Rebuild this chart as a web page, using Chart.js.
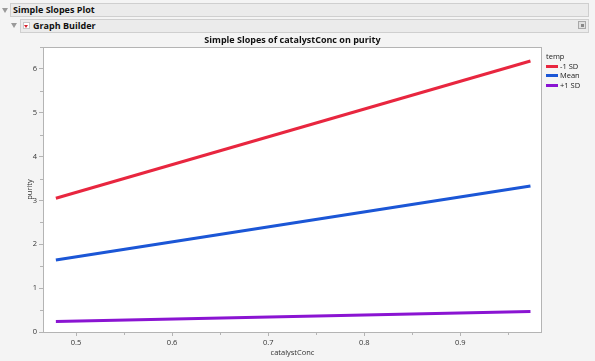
<!DOCTYPE html>
<html>
<head>
  <script src="https://cdn.jsdelivr.net/npm/chart.js@4.4.1/dist/chart.umd.min.js"></script>
  <title>Simple Slopes Plot</title>
  <style>
    body { margin: 0; width: 595px; height: 361px; background: #f4f4f4; font-family: "Open Sans", "Noto Sans", sans-serif; position: relative; overflow: hidden; }
    .tri { position: absolute; width: 0; height: 0; border-left: 3px solid transparent; border-right: 3px solid transparent; border-top: 5px solid #9a9a9a; }
    .bar { position: absolute; background: #ebebeb; border: 1px solid #cfcfcf; box-sizing: border-box; font-weight: bold; font-size: 9px; color: #111; line-height: 12px; }
    #drop { position: absolute; left: 23px; top: 22px; width: 7px; height: 7px; background: #fff; border: 1px solid #c8c8c8; box-sizing: border-box; }
    #drop:after { content: ""; position: absolute; left: 0px; top: 1.5px; border-left: 2.5px solid transparent; border-right: 2.5px solid transparent; border-top: 3px solid #d8202c; }
    #icon { position: absolute; left: 578px; top: 21px; width: 8px; height: 8px; border: 1px solid #a8a8a8; background: #e0e0e0; box-sizing: border-box; }
    #icon:after { content: ""; position: absolute; left: 2px; top: 2px; width: 3px; height: 3px; background: #888; }
    #chartBox { position: absolute; left: 0; top: 34px; width: 595px; height: 327px; }
    #legend { position: absolute; left: 546px; top: 52px; font-size: 7.5px; color: #222; }
    #legend .item { height: 9.5px; line-height: 9.5px; white-space: nowrap; }
    #legend .sw { display: inline-block; width: 12px; height: 3px; vertical-align: middle; margin-right: 2px; margin-top: -1px; }
  </style>
</head>
<body>
  <div class="tri" style="left:2px; top:8px;"></div>
  <div class="bar" style="left:10px; top:3px; width:579px; height:14px; padding-left:2px;">Simple Slopes Plot</div>
  <div class="tri" style="left:11px; top:23px;"></div>
  <div class="bar" style="left:20px; top:19px; width:569px; height:14px; padding-left:12px;">Graph Builder</div>
  <div id="drop"></div>
  <div id="icon"></div>

  <div id="chartBox"><canvas id="slopeChart" width="595" height="327"></canvas></div>
  <div id="legend"></div>

  <script>
    // values
    let xValues = [0.479, 0.973];
    let lowSD = [3.05, 6.18];
    let meanSD = [1.64, 3.33];
    let highSD = [0.24, 0.47];

    let seriesNames = ["-1 SD", "Mean", "+1 SD"];
    let seriesColors = ["#e8263f", "#1b56d6", "#8a14d2"];

    let xTicks = [0.5, 0.6, 0.7, 0.8, 0.9];
    let xMinor = [0.5, 0.55, 0.6, 0.65, 0.7, 0.75, 0.8, 0.85, 0.9, 0.95];
    let yTicks = [0, 1, 2, 3, 4, 5, 6];
    let yMinor = [0.5, 1.5, 2.5, 3.5, 4.5, 5.5, 6.5];

    let seriesData = [lowSD, meanSD, highSD];

    // legend on the right, built from the series names
    let legend = document.getElementById("legend");
    legend.innerHTML = '<div class="item">temp</div>' + seriesNames.map((n, i) =>
      '<div class="item"><span class="sw" style="background:' + seriesColors[i] + '"></span>' + n + '</div>').join("");

    // white plot frame + minor ticks
    let framePlugin = {
      id: "frame",
      beforeDraw(chart) {
        let a = chart.chartArea, c = chart.ctx;
        c.save();
        c.fillStyle = "#ffffff";
        c.fillRect(a.left, a.top, a.right - a.left, a.bottom - a.top);
        c.restore();
      },
      afterDraw(chart) {
        let a = chart.chartArea, c = chart.ctx;
        c.save();
        c.strokeStyle = "#b4b4b4";
        c.lineWidth = 1;
        c.strokeRect(a.left + 0.5, a.top + 0.5, a.right - a.left - 1, a.bottom - a.top);
        c.beginPath();
        yMinor.forEach(v => {
          let y = Math.round(chart.scales.y.getPixelForValue(v)) + 0.5;
          c.moveTo(a.left - 3, y); c.lineTo(a.left, y);
        });
        xMinor.forEach(v => {
          let x = Math.round(chart.scales.x.getPixelForValue(v)) + 0.5;
          c.moveTo(x, a.bottom); c.lineTo(x, a.bottom + 3);
        });
        c.stroke();
        c.restore();
      }
    };

    let ctx = document.getElementById("slopeChart").getContext("2d");
    let chart = new Chart(ctx, {
      type: "line",
      data: {
        datasets: seriesNames.map((n, i) => ({
          label: n,
          data: xValues.map((x, j) => ({ x: x, y: seriesData[i][j] })),
          borderColor: seriesColors[i],
          borderWidth: 3,
          pointRadius: 0,
          fill: false,
        })),
      },
      options: {
        responsive: false,
        animation: false,
        layout: { padding: { left: 25, right: 53, top: 0, bottom: 0 } },
        plugins: {
          legend: { display: false },
          tooltip: { enabled: false },
          title: {
            display: true,
            text: "Simple Slopes of catalystConc on purity",
            fullSize: false,
            color: "#111",
            font: { family: "'Open Sans', 'Noto Sans', sans-serif", size: 9, weight: "bold", lineHeight: 1 },
            padding: { top: 2, bottom: 2 },
          },
        },
        scales: {
          x: {
            type: "linear",
            min: 0.4656,
            max: 0.985,
            afterBuildTicks: s => { s.ticks = xTicks.map(v => ({ value: v })); },
            afterFit: s => { s.height = 29; },
            grid: { drawOnChartArea: false, drawTicks: true, tickLength: 4, color: "#b4b4b4" },
            border: { display: false },
            ticks: {
              padding: 2,
              color: "#333",
              font: { family: "'Open Sans', 'Noto Sans', sans-serif", size: 7.5 },
              callback: v => v.toFixed(1),
            },
            title: {
              display: true,
              text: "catalystConc",
              color: "#333",
              padding: { top: 0, bottom: 4 },
              font: { family: "'Open Sans', 'Noto Sans', sans-serif", size: 7.5 },
            },
          },
          y: {
            type: "linear",
            min: 0,
            max: 6.5,
            afterBuildTicks: s => { s.ticks = yTicks.map(v => ({ value: v })); },
            afterFit: s => { s.width = 18; },
            grid: { drawOnChartArea: false, drawTicks: true, tickLength: 4, color: "#b4b4b4" },
            border: { display: false },
            ticks: {
              padding: 2,
              color: "#333",
              font: { family: "'Open Sans', 'Noto Sans', sans-serif", size: 7.5 },
            },
            title: {
              display: true,
              text: "purity",
              color: "#333",
              padding: 0,
              font: { family: "'Open Sans', 'Noto Sans', sans-serif", size: 7.5 },
            },
          },
        },
      },
      plugins: [framePlugin],
    });
  </script>
</body>
</html>
